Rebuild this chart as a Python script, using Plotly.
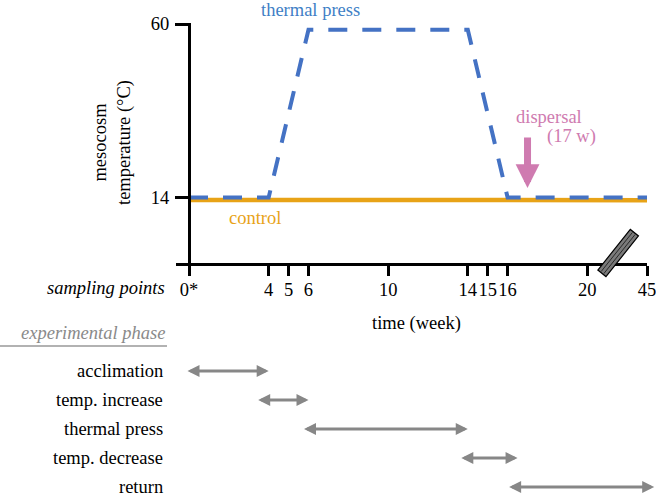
import math
import plotly.graph_objects as go

# ---------------- data ----------------
sample_weeks = [0, 4, 5, 6, 10, 14, 15, 16, 20, 45]
sample_labels = ["0*", "4", "5", "6", "10", "14", "15", "16", "20", "45"]

press_weeks = [0, 4, 6, 14, 16, 45]
press_temps = [14, 14, 58.5, 58.5, 14, 14]

control_weeks = [0, 45]
control_temps = [13.35, 13.3]

dispersal_week = 17

phase_names = ["acclimation", "temp. increase", "thermal press", "temp. decrease", "return"]
phase_start = [-0.15, 3.4, 5.7, 13.6, 16.0]
phase_end = [4, 6.0, 14.0, 16.5, 48.0]

ytick_vals = [14, 60]

# ---------------- layout helpers ----------------
W, H = 656, 496
FONT = "Liberation Serif"
FS = 18.5
BLUE = "#4472C4"
BLUE_TXT = "#3F7FC6"
ORANGE = "#E8A317"
PINK = "#CF7BB0"
GRAY = "#878787"

BREAK_AT = 20
POST_BREAK_SPAN = 3.0  # display units used for weeks 20..45


def xpos(w):
    if w <= BREAK_AT:
        return w
    return BREAK_AT + (w - BREAK_AT) * POST_BREAK_SPAN / (45 - BREAK_AT)


def px(x):
    return x / W


def py(y):
    return 1 - y / H


x_dom = [px(176), px(647.3)]
x_rng = [-0.653, xpos(45) + 0.015]
y_dom = [py(263), py(22.5)]
y_rng = [-3.36, 60.4]
units_px = (x_dom[1] - x_dom[0]) * W / (x_rng[1] - x_rng[0])
yaxis_pos = x_dom[0] + (0 - x_rng[0]) * units_px / W


def x_to_paper(v):
    return x_dom[0] + (v - x_rng[0]) * units_px / W


fig = go.Figure()

fig.add_trace(go.Scatter(
    x=[xpos(w) for w in control_weeks], y=control_temps, mode="lines",
    line=dict(color=ORANGE, width=4.5), hoverinfo="skip", showlegend=False,
))
fig.add_trace(go.Scatter(
    x=[xpos(w) for w in press_weeks], y=press_temps, mode="lines",
    line=dict(color=BLUE, width=4, dash="19px,15px"), hoverinfo="skip", showlegend=False,
))

annotations = []


def text(t, x, y, size=FS, color="black", xanchor="center", italic=False, angle=0):
    if italic:
        t = "<i>" + t + "</i>"
    annotations.append(dict(
        text=t, x=px(x), y=py(y), xref="paper", yref="paper", showarrow=False,
        xanchor=xanchor, yanchor="middle", textangle=angle,
        font=dict(family=FONT, size=size, color=color),
    ))


text("thermal press", 310, 10, color=BLUE_TXT)
text("control", 255, 218, color=ORANGE)
text("dispersal", 549, 117, color=PINK)
text("(17 w)", 571, 137, color=PINK)
text("mesocosm<br>temperature (°C)", 112, 143, angle=-90)
text("sampling points", 167, 288, xanchor="right", italic=True)
text("time (week)", 416, 323)
text("experimental phase", 167, 333, xanchor="right", italic=True, color="#8a8a8a")

# dispersal arrow
annotations.append(dict(
    x=xpos(dispersal_week), y=16.5, xref="x", yref="y", text="",
    showarrow=True, ax=0, ay=-52, axref="pixel", ayref="pixel",
    arrowhead=2, arrowsize=0.68, arrowwidth=7, arrowcolor=PINK,
))

# phase rows
row0, row_step = 371, 29.0
for i, name in enumerate(phase_names):
    yy = row0 + i * row_step
    text(name, 165, yy, xanchor="right")
    annotations.append(dict(
        x=xpos(phase_end[i]), y=py(yy), xref="x", yref="paper",
        ax=xpos(phase_start[i]), ay=0, axref="x", ayref="pixel",
        text="", showarrow=True, arrowside="end+start",
        arrowhead=2, arrowsize=0.8, arrowwidth=3, arrowcolor=GRAY,
    ))

shapes = []
# rule under "experimental phase"
shapes.append(dict(type="line", xref="paper", yref="paper", x0=0, x1=px(167),
                   y0=py(346), y1=py(346), line=dict(color="#999999", width=1.5)))

# axis-break marker (parallelogram strip), anchored in paper coords so it is not clipped
bx = x_to_paper((xpos(BREAK_AT) + xpos(45)) / 2)
by = y_dom[0]
cx, cy = 1, 10
dx, dy = 32 / 51.2, 40 / 51.2
nx, ny = -dy, dx
half_len, half_w = 26, 5.2
corners = [
    (cx - dx * half_len + nx * half_w, cy - dy * half_len + ny * half_w),
    (cx - dx * half_len - nx * half_w, cy - dy * half_len - ny * half_w),
    (cx + dx * half_len - nx * half_w, cy + dy * half_len - ny * half_w),
    (cx + dx * half_len + nx * half_w, cy + dy * half_len + ny * half_w),
]
path = "M" + " L".join(f"{a:.2f},{b:.2f}" for a, b in corners) + " Z"
shapes.append(dict(type="path", path=path, xref="paper", yref="paper",
                   xsizemode="pixel", ysizemode="pixel", xanchor=bx, yanchor=by,
                   fillcolor="#7a7a7a", line=dict(color="black", width=1.2), layer="above"))
for off in (-1.7, 1.7):
    p0 = (cx - dx * (half_len - 1) + nx * off, cy - dy * (half_len - 1) + ny * off)
    p1 = (cx + dx * (half_len - 1) + nx * off, cy + dy * (half_len - 1) + ny * off)
    shapes.append(dict(type="path", path=f"M{p0[0]:.2f},{p0[1]:.2f} L{p1[0]:.2f},{p1[1]:.2f}",
                       xref="paper", yref="paper", xsizemode="pixel", ysizemode="pixel",
                       xanchor=bx, yanchor=by, line=dict(color="#2a2a2a", width=1),
                       layer="above"))

fig.update_layout(
    width=W, height=H, margin=dict(l=0, r=0, t=0, b=0, pad=0, autoexpand=False),
    paper_bgcolor="white", plot_bgcolor="white",
    font=dict(family=FONT, size=FS, color="black"),
    showlegend=False,
    xaxis=dict(
        domain=x_dom, range=x_rng, showgrid=False, zeroline=False, automargin=False,
        showline=True, linecolor="black", linewidth=3,
        tickmode="array", tickvals=[xpos(w) for w in sample_weeks], ticktext=sample_labels,
        ticks="outside", ticklen=10, tickwidth=3, tickcolor="black",
        ticklabelstandoff=-2, tickangle=0, ticklabeloverflow="allow",
        tickfont=dict(family=FONT, size=FS, color="black"),
    ),
    yaxis=dict(
        domain=y_dom, range=y_rng, anchor="free", position=yaxis_pos, automargin=False,
        showgrid=False, zeroline=False,
        showline=True, linecolor="black", linewidth=3,
        tickmode="array", tickvals=ytick_vals, ticktext=[str(v) for v in ytick_vals],
        ticks="outside", ticklen=13, tickwidth=3, tickcolor="black",
        ticklabelstandoff=2, ticklabeloverflow="allow",
        tickfont=dict(family=FONT, size=FS, color="black"),
    ),
    annotations=annotations,
    shapes=shapes,
)

fig.write_html("out.html", config={"displayModeBar": False},
               post_script="document.body.style.margin='0';document.body.style.overflow='hidden';")
